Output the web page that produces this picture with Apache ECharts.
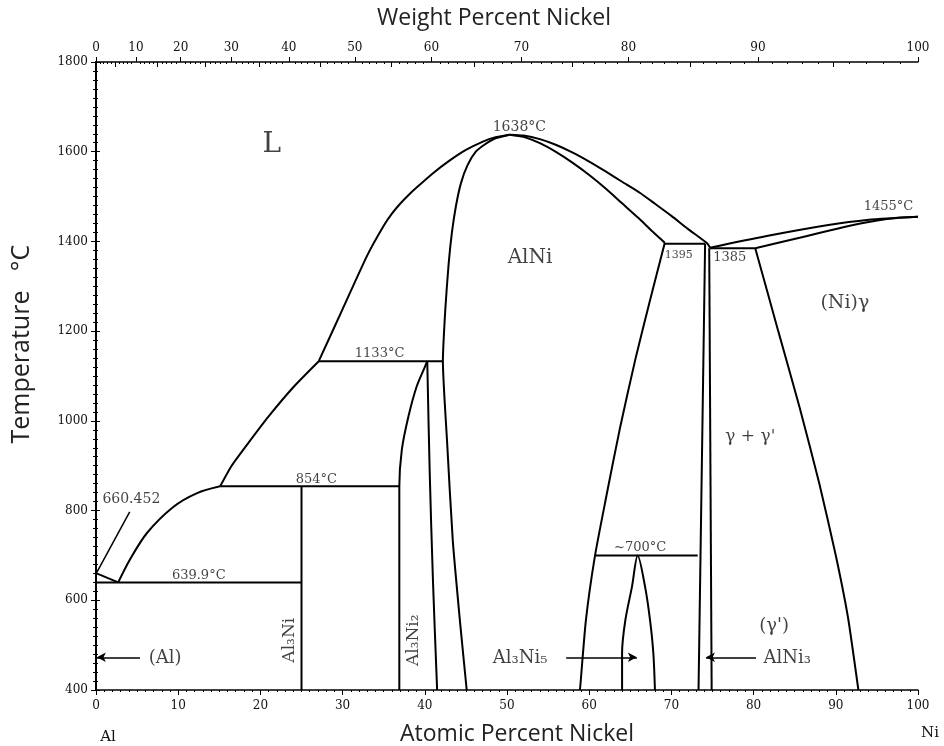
<!DOCTYPE html>
<html><head><meta charset="utf-8">
<script src="https://cdn.jsdelivr.net/npm/echarts@6/dist/echarts.min.js"></script>
<style>html,body{margin:0;padding:0;background:#fff}#c{width:944px;height:746px}</style>
</head><body><div id="c"></div>
<script>
// ---- Tick labels ----
const atTicks = [0,10,20,30,40,50,60,70,80,90,100];
const tempTicks = [400,600,800,1000,1200,1400,1600,1800];
const wtMajor = [0,10,20,30,40,50,60,70,80,90,100];
const wtMid = [5,15,25,35,45,55,65,75,85,95];
const wtMinor = [1,2,3,4,6,7,8,9,11,12,13,14,16,17,18,19,21,22,23,24,26,27,28,29,31,32,33,34,36,37,38,39,41,42,43,44,46,47,48,49,51,52,53,54,56,57,58,59,61,62,63,64,66,67,68,69,71,72,73,74,76,77,78,79,81,82,83,84,86,87,88,89,91,92,93,94,96,97,98,99];

// ---- Phase boundaries [at% Ni, T °C] ----
const liqAlSide = [[0,660.452],[2.7,639.9]];
const liqLow = [[2.7,639.9],[4.1,690],[6.2,750],[9.4,808],[12.3,839],[15.1,854]];
const liqMid = [[15.1,854],[16.5,900],[18.5,950],[21,1010],[24,1075],[27.1,1133]];
const liqHigh = [[27.1,1133],[30,1249],[33,1369],[35,1435],[36,1462],[37,1484],[38,1503],[39,1520],[41,1552],[43,1580],[45,1604],[47,1622],[48.5,1632],[50.3,1638]];
const solAlNiLeft = [[50.3,1638],[48.6,1630],[47.2,1615],[46.2,1600],[45.2,1570],[44.4,1530],[43.8,1480],[43.3,1420],[42.9,1350],[42.5,1250],[42.2,1133],[42.7,957],[43.4,734],[44.3,549],[45.1,400]];
const liqRight = [[50.3,1638],[52,1636],[54,1628],[56,1615],[58,1598],[60,1578],[62,1556],[64,1533],[66.2,1508],[68,1484],[70,1457],[72,1428],[74.4,1395],[74.7,1386]];
const solAlNiRight = [[50.3,1638],[52,1633],[54,1619],[56,1599],[58,1575],[60,1548],[62,1518],[64,1485],[66,1452],[67.6,1424],[69.2,1397]];
const solvAlNiRight = [[69.2,1397],[67.4,1269],[65.6,1136],[63.7,980],[62.0,824],[60.7,699],[59.6,556],[58.9,405],[58.85,400]];
const liqNi = [[74.7,1386],[81.6,1412],[88.9,1436],[93.8,1448],[100,1455]];
const solNi = [[80.2,1385],[85.6,1408],[91.7,1435],[96.2,1450],[100,1455]];
const solvNi = [[80.2,1385],[83.0,1200],[85.6,1030],[88.0,860],[90.0,700],[91.5,560],[92.75,400]];
const al3ni5 = [[64.0,400],[64.0,483],[64.4,556],[65.2,630],[65.9,700],[66.8,630],[67.4,556],[67.8,483],[68.0,400]];
const alni3Left = [[74.1,1395],[73.3,400]];
const alni3Right = [[74.6,1385],[74.9,400]];
const al3ni2Left = [[36.9,400],[36.9,854],[37.2,935],[38.0,1009],[39.0,1076],[40.0,1120],[40.3,1133]];
const al3ni2Right = [[40.3,1133],[40.6,883],[41.0,640],[41.5,400]];
const al3niLine = [[25,854],[25,400]];
const iso6399 = [[0,639.9],[25,639.9]];
const iso854 = [[15.1,854],[36.9,854]];
const iso1133 = [[27.1,1133],[42.2,1133]];
const iso700 = [[60.7,700],[73.2,700]];
const iso1395 = [[69.2,1395],[74.1,1395]];
const iso1385 = [[74.7,1385],[80.2,1385]];
const leader660 = [[4.1,797],[0.1,662]];

// ---- Annotations [x, T, text, size, rotate] ----
const phaseLabels = [
  [21.4,1615,'L',28,0],
  [52.8,1363,'AlNi',20,0],
  [91.1,1263,'(Ni)γ',19,0],
  [79.6,964,"γ + γ'",17,0],
  [82.5,543,"(γ')",18,0],
  [84.1,471,'AlNi₃',18,0],
  [51.6,471,'Al₃Ni₅',18,0],
  [8.4,471,'(Al)',18,0],
  [23.6,511,'Al₃Ni',17,90],
  [38.6,511,'Al₃Ni₂',17,90]
];
const tempLabels = [
  [51.5,1655,'1638°C',14],
  [34.5,1149,'1133°C',13],
  [26.8,870,'854°C',13],
  [12.5,654,'639.9°C',13],
  [66.2,717,'~700°C',13],
  [70.9,1370,'1395',11],
  [77.1,1365,'1385',13],
  [96.4,1477,'1455°C',13],
  [4.3,824,'660.452',14]
];
const arrows = [
  [[5.35,473],[0.1,473]],
  [[57.2,473],[65.8,473]],
  [[80.3,473],[74.2,473]]
];

const MNi = 58.69, MAl = 26.98;
function atFromWt(w){ const a=w/MNi, b=(100-w)/MAl; return 100*a/(a+b); }
function wtFromAt(x){ const a=x*MNi, b=(100-x)*MAl; return 100*a/(a+b); }

const serif = 'DejaVu Serif';
const curves = [
  [liqAlSide,0],[liqLow,0.3],[liqMid,0.2],[liqHigh,0.2],[solAlNiLeft,0.2],[liqRight,0.2],
  [solAlNiRight,0.2],[solvAlNiRight,0.2],[liqNi,0.3],[solNi,0.3],[solvNi,0.15],[al3ni5,0.3],
  [alni3Left,0],[alni3Right,0],[al3ni2Left,0.3],[al3ni2Right,0.3],[al3niLine,0],
  [iso6399,0],[iso854,0],[iso1133,0],[iso700,0],[iso1395,0],[iso1385,0]
];
const series = curves.map(([d,s]) => ({
  type:'line', data:d, showSymbol:false, smooth:s, xAxisIndex:0, yAxisIndex:0,
  lineStyle:{color:'#000', width:2}, silent:true, z:3
}));
series.push({type:'line', data:leader660, showSymbol:false, lineStyle:{color:'#000',width:1.5}, silent:true});
series.push({
  type:'line', data:[], markLine:{
    silent:true, symbol:['none','arrow'], symbolSize:[7,9],
    lineStyle:{color:'#000', width:1.5, type:'solid'}, label:{show:false},
    data: arrows.map(a => [{coord:a[0]},{coord:a[1]}])
  }
});
series.push({
  type:'scatter', symbolSize:0, silent:true, z:5,
  data: phaseLabels.map(p => ({value:[p[0],p[1]], label:{show:true, position:'inside', formatter:p[2], fontSize:p[3], rotate:p[4], fontFamily:serif, color:'#111'}}))
});
series.push({
  type:'scatter', symbolSize:0, silent:true, z:5,
  data: tempLabels.map(p => ({value:[p[0],p[1]], label:{show:true, position:'inside', formatter:p[2], fontSize:p[3], fontFamily:serif, color:'#111'}}))
});

const topBase = {type:'value', position:'top', min:0, max:100, splitLine:{show:false}};
const option = {
  animation:false,
  backgroundColor:'#fff',
  grid:{left:96, right:26, top:62, bottom:56},
  xAxis:[
    {type:'value', position:'bottom', min:0, max:100, interval:10,
     axisLine:{lineStyle:{color:'#000', width:1.5}},
     axisTick:{length:5, lineStyle:{color:'#000'}},
     minorTick:{show:true, splitNumber:10, length:2, lineStyle:{color:'#000'}},
     axisLabel:{fontFamily:serif, fontSize:12, color:'#111', margin:10},
     splitLine:{show:false}},
    Object.assign({}, topBase, {
     axisLine:{lineStyle:{color:'#000', width:1.5}},
     axisTick:{customValues: wtMajor.map(atFromWt), length:5, lineStyle:{color:'#000'}},
     axisLabel:{customValues: wtMajor.map(atFromWt), formatter: v => String(Math.round(wtFromAt(v))), fontFamily:serif, fontSize:12, color:'#111', margin:8}}),
    Object.assign({}, topBase, {
     axisLine:{show:false},
     axisTick:{customValues: wtMid.map(atFromWt), inside:true, length:5, lineStyle:{color:'#000'}},
     axisLabel:{show:false}}),
    Object.assign({}, topBase, {
     axisLine:{show:false},
     axisTick:{customValues: wtMinor.map(atFromWt), inside:true, length:2, lineStyle:{color:'#000'}},
     axisLabel:{show:false}})
  ],
  yAxis:[
    {type:'value', min:400, max:1800, interval:200,
     axisLine:{show:true, lineStyle:{color:'#000', width:2}},
     axisTick:{show:true, length:5, lineStyle:{color:'#000'}},
     minorTick:{show:true, splitNumber:10, length:3, lineStyle:{color:'#000'}},
     axisLabel:{fontFamily:serif, fontSize:12, color:'#111', margin:8, formatter: v => tempTicks.includes(v) ? String(v) : ''},
     splitLine:{show:false}},
    {type:'value', position:'right', min:400, max:1800, interval:200,
     axisLine:{show:true, lineStyle:{color:'#000', width:1.5}},
     axisTick:{show:true, length:4, lineStyle:{color:'#000'}},
     minorTick:{show:true, splitNumber:10, length:2, lineStyle:{color:'#000'}},
     axisLabel:{show:false}, splitLine:{show:false}}
  ],
  graphic:[
    {type:'text', x:494, y:18, style:{text:'Weight Percent Nickel', fontSize:23, fontFamily:'Open Sans', fill:'#222', align:'center', verticalAlign:'middle'}},
    {type:'text', x:517, y:734, style:{text:'Atomic Percent Nickel', fontSize:23, fontFamily:'Open Sans', fill:'#222', align:'center', verticalAlign:'middle'}},
    {type:'text', x:22, y:367, rotation:Math.PI/2, style:{text:'Temperature', fontSize:25, fontFamily:'Open Sans', fill:'#222', align:'center', verticalAlign:'middle'}},
    {type:'text', x:22, y:258, rotation:Math.PI/2, style:{text:'°C', fontSize:25, fontFamily:'Open Sans', fill:'#222', align:'center', verticalAlign:'middle'}},
    {type:'text', x:108, y:737, style:{text:'Al', fontSize:15, fontFamily:serif, fill:'#111', align:'center', verticalAlign:'middle'}},
    {type:'text', x:930, y:733, style:{text:'Ni', fontSize:15, fontFamily:serif, fill:'#111', align:'center', verticalAlign:'middle'}}
  ],
  series: series
};
const chart = echarts.init(document.getElementById('c'), null, {renderer:'canvas'});
chart.setOption(option);
</script></body></html>
